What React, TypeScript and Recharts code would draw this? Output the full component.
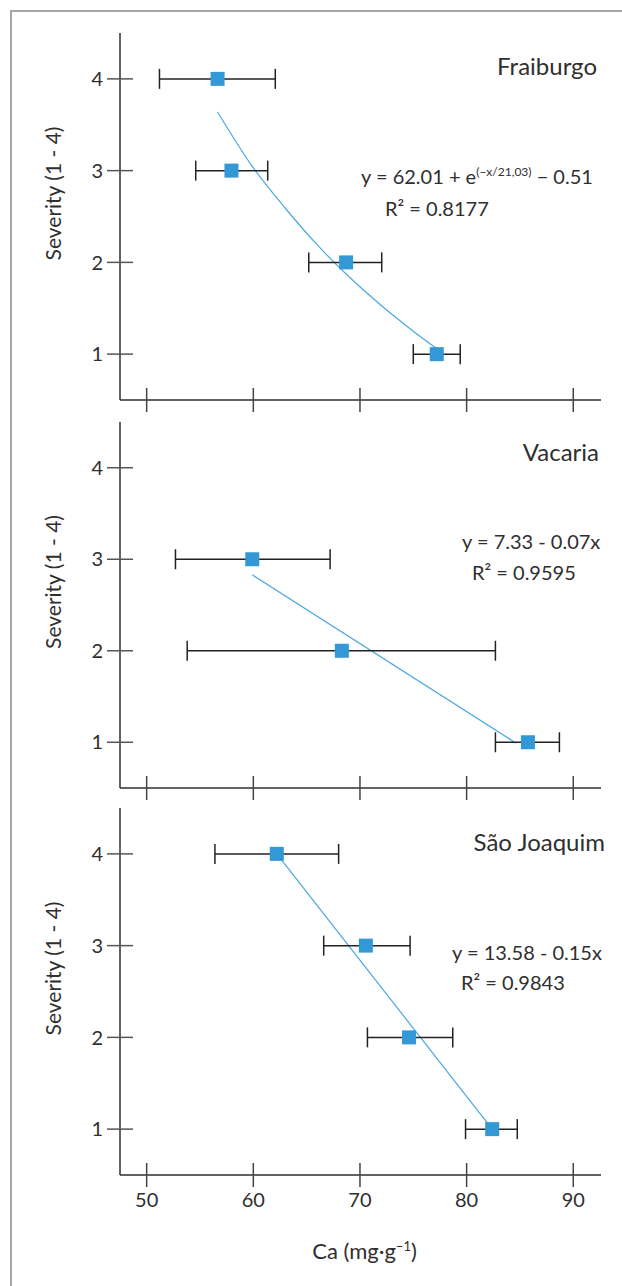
import React from "react";
import { ComposedChart, ErrorBar, Line, Scatter, XAxis, YAxis } from "recharts";

// shared axes
const X_TICKS = [50, 60, 70, 80, 90];
const Y_TICKS = [1, 2, 3, 4];
const X_DOMAIN = [47.5, 92.6];
const Y_DOMAIN = [0.5, 4.5];

// Fraiburgo
const FRAI_SEV = [4, 3, 2, 1];
const FRAI_CA = [56.65, 57.95, 68.7, 77.2];
const FRAI_LOW = [51.2, 54.6, 65.2, 75.0];
const FRAI_HIGH = [62.06, 61.35, 72.04, 79.4];
const FRAI_FIT_CA = [56.65, 60, 63, 66, 69, 72, 75, 77.2];
const FRAI_FIT_SEV = [3.64, 3.03, 2.59, 2.19, 1.84, 1.53, 1.25, 1.06];

// Vacaria
const VAC_SEV = [3, 2, 1];
const VAC_CA = [59.9, 68.3, 85.75];
const VAC_LOW = [52.7, 53.8, 82.7];
const VAC_HIGH = [67.2, 82.7, 88.7];
const VAC_FIT_CA = [59.9, 84.65];
const VAC_FIT_SEV = [2.83, 0.99];

// São Joaquim
const SJ_SEV = [4, 3, 2, 1];
const SJ_CA = [62.2, 70.55, 74.6, 82.4];
const SJ_LOW = [56.4, 66.6, 70.7, 79.9];
const SJ_HIGH = [68.0, 74.7, 78.7, 84.75];
const SJ_FIT_CA = [62.2, 82.4];
const SJ_FIT_SEV = [4.0, 1.0];

const FONT = "Lato, 'Open Sans', sans-serif";
const INK = "#2e2e2e";
const TEXT = "#2f2f2f";
const BLUE = "#3399d6";
const FIT_BLUE = "#4aa8e0";

const toPoints = (ca: number[], sev: number[], low: number[], high: number[]) =>
  ca.map((x, i) => ({ x, y: sev[i], err: [x - low[i], high[i] - x] }));
const toFit = (ca: number[], sev: number[]) => ca.map((x, i) => ({ x, y: sev[i] }));

const Square = (p: any) => (
  <rect x={p.cx - 7} y={p.cy - 7} width={14} height={14} fill={BLUE} />
);

const XTick = (p: any) => (
  <g>
    <line x1={p.x} x2={p.x} y1={p.y - 12} y2={p.y + 12} stroke="#444" strokeWidth={1.5} />
    {p.showLabel && (
      <text x={p.x} y={p.y + 32} textAnchor="middle" fontSize={20} fill={TEXT} fontFamily={FONT}>
        {p.payload.value}
      </text>
    )}
  </g>
);

const YTick = (p: any) => (
  <g>
    <line x1={p.x - 13} x2={p.x + 13} y1={p.y} y2={p.y} stroke="#555" strokeWidth={1.5} />
    <text x={p.x - 17} y={p.y} dy="0.36em" textAnchor="end" fontSize={20} fill={TEXT} fontFamily={FONT}>
      {p.payload.value}
    </text>
  </g>
);

const YTitle = (p: any) => {
  const vb = p.viewBox;
  return (
    <text
      transform={`translate(${vb.x + 52}, ${vb.y + vb.height / 2 - 23}) rotate(-90)`}
      textAnchor="middle" dominantBaseline="central"
      fontSize={21} fill={TEXT} fontFamily={FONT}
    >
      Severity (1 - 4)
    </text>
  );
};

const XTitle = (p: any) => {
  const vb = p.viewBox;
  return (
    <text x={vb.x + vb.width / 2 + 4} y={vb.y + 84} textAnchor="middle" fontSize={22} fill={TEXT} fontFamily={FONT}>
      <tspan>Ca (mg·g</tspan>
      <tspan dy={-8} fontSize={13}>−1</tspan>
      <tspan dy={8}>)</tspan>
    </text>
  );
};

interface PanelProps {
  top: number;
  height: number;
  marginTop: number;
  axisHeight: number;
  points: { x: number; y: number; err: number[] }[];
  fit: { x: number; y: number }[];
  fitType: "monotone" | "linear";
  showX?: boolean;
}

function Panel({ top, height, marginTop, axisHeight, points, fit, fitType, showX }: PanelProps) {
  return (
    <div style={{ position: "absolute", left: 0, top, width: 622, height }}>
      <ComposedChart width={622} height={height} margin={{ top: marginTop, right: 21, bottom: 0, left: 0 }}>
        <XAxis
          type="number" dataKey="x" domain={X_DOMAIN} ticks={X_TICKS} interval={0}
          allowDataOverflow height={axisHeight} tickSize={0} tickMargin={0} tickLine={false}
          axisLine={{ stroke: INK, strokeWidth: 1.5 }}
          tick={(p: any) => <XTick {...p} showLabel={showX} />}
          label={showX ? XTitle : undefined}
        />
        <YAxis
          type="number" dataKey="y" domain={Y_DOMAIN} ticks={Y_TICKS} interval={0}
          allowDataOverflow width={120} tickSize={0} tickMargin={0} tickLine={false}
          axisLine={{ stroke: INK, strokeWidth: 1.5 }}
          tick={YTick}
          label={YTitle}
        />
        <Line
          data={fit} dataKey="y" type={fitType} stroke={FIT_BLUE} strokeWidth={1.2}
          dot={false} activeDot={false} isAnimationActive={false}
        />
        <Scatter data={points} dataKey="y" shape={Square} isAnimationActive={false}>
          <ErrorBar dataKey="err" direction="x" width={10} stroke="#222" strokeWidth={1.5} />
        </Scatter>
      </ComposedChart>
    </div>
  );
}

export default function App() {
  return (
    <div style={{ position: "absolute", left: 0, top: 0, width: 622, height: 1286, background: "#fff", overflow: "hidden", fontFamily: FONT }}>
      <div style={{ position: "absolute", left: 10, top: 10, width: 700, height: 1400, borderLeft: "2px solid #a6a6a6", borderTop: "2px solid #a6a6a6" }} />
      <Panel
        top={0} height={420} marginTop={33} axisHeight={20}
        points={toPoints(FRAI_CA, FRAI_SEV, FRAI_LOW, FRAI_HIGH)}
        fit={toFit(FRAI_FIT_CA, FRAI_FIT_SEV)} fitType="monotone"
      />
      <Panel
        top={400} height={408} marginTop={22} axisHeight={20}
        points={toPoints(VAC_CA, VAC_SEV, VAC_LOW, VAC_HIGH)}
        fit={toFit(VAC_FIT_CA, VAC_FIT_SEV)} fitType="linear"
      />
      <Panel
        top={788} height={498} marginTop={20} axisHeight={111}
        points={toPoints(SJ_CA, SJ_SEV, SJ_LOW, SJ_HIGH)}
        fit={toFit(SJ_FIT_CA, SJ_FIT_SEV)} fitType="linear" showX
      />
      <svg width={622} height={1286} style={{ position: "absolute", left: 0, top: 0, pointerEvents: "none" }}>
        <g fontFamily={FONT} fill={TEXT}>
          <text x={597} y={75} textAnchor="end" fontSize={24}>Fraiburgo</text>
          <text x={361} y={184} fontSize={20}>
            <tspan>y = 62.01 + e</tspan>
            <tspan dy={-8} fontSize={12}>(−x/21,03)</tspan>
            <tspan dy={8}> − 0.51</tspan>
          </text>
          <text x={385} y={216} fontSize={20}>R² = 0.8177</text>

          <text x={599} y={461} textAnchor="end" fontSize={24}>Vacaria</text>
          <text x={462} y={549} fontSize={20}>y = 7.33 - 0.07x</text>
          <text x={472} y={580} fontSize={20}>R² = 0.9595</text>

          <text x={605} y={851} textAnchor="end" fontSize={24}>São Joaquim</text>
          <text x={452} y={960} fontSize={20}>y = 13.58 - 0.15x</text>
          <text x={461} y={990} fontSize={20}>R² = 0.9843</text>
        </g>
      </svg>
    </div>
  );
}
